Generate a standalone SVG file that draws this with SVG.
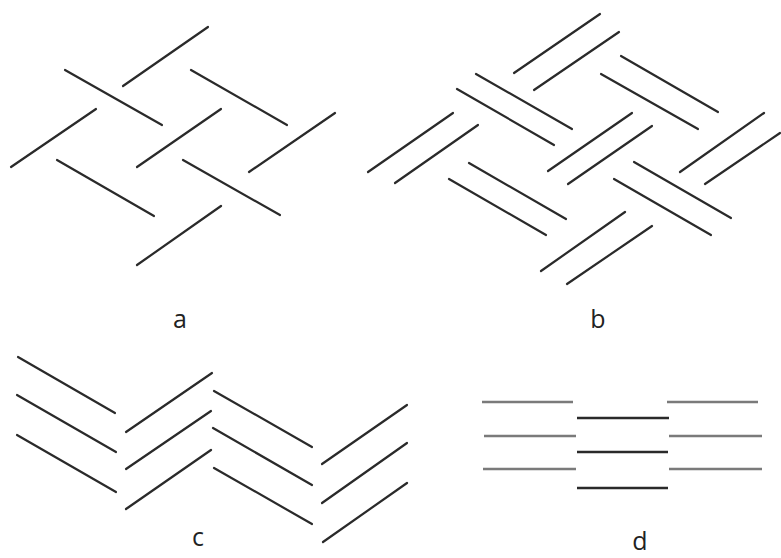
<svg xmlns="http://www.w3.org/2000/svg" width="781" height="558" viewBox="0 0 781 558">
<style>
.s{stroke:#2a2a2a;stroke-width:2.2;stroke-linecap:round;fill:none}
.g{stroke:#7a7a7a;stroke-width:2.4;fill:none}
.k{stroke:#2a2a2a;stroke-width:2.4;fill:none}
.t{font-family:"Open Sans","Liberation Sans",sans-serif;font-size:25px;fill:#222;text-anchor:middle}
</style>
<rect width="781" height="558" fill="#fff"/>
<g id="a">
<line class="s" x1="208" y1="27" x2="123" y2="86"/>
<line class="s" x1="65" y1="70" x2="162" y2="125"/>
<line class="s" x1="191" y1="70" x2="287" y2="125"/>
<line class="s" x1="96" y1="109" x2="11" y2="167"/>
<line class="s" x1="221" y1="109" x2="137" y2="167"/>
<line class="s" x1="335" y1="113" x2="249" y2="172"/>
<line class="s" x1="57" y1="160" x2="154" y2="216"/>
<line class="s" x1="183" y1="160" x2="280" y2="215"/>
<line class="s" x1="221" y1="206" x2="137" y2="265"/>
<text class="t" x="180" y="328">a</text>
</g>
<g id="b">
<line class="s" x1="600" y1="14" x2="514" y2="73"/>
<line class="s" x1="619" y1="32" x2="534" y2="90"/>
<line class="s" x1="621" y1="56" x2="718" y2="112"/>
<line class="s" x1="601" y1="74" x2="698" y2="129"/>
<line class="s" x1="476" y1="74" x2="572" y2="129"/>
<line class="s" x1="457" y1="89" x2="554" y2="145"/>
<line class="s" x1="453" y1="113" x2="368" y2="172"/>
<line class="s" x1="478" y1="125" x2="395" y2="183"/>
<line class="s" x1="632" y1="113" x2="548" y2="171"/>
<line class="s" x1="652" y1="126" x2="568" y2="184"/>
<line class="s" x1="764" y1="113" x2="680" y2="172"/>
<line class="s" x1="780" y1="133" x2="705" y2="184"/>
<line class="s" x1="469" y1="163" x2="566" y2="219"/>
<line class="s" x1="449" y1="179" x2="546" y2="235"/>
<line class="s" x1="634" y1="162" x2="731" y2="218"/>
<line class="s" x1="614" y1="179" x2="711" y2="235"/>
<line class="s" x1="625" y1="212" x2="541" y2="271"/>
<line class="s" x1="652" y1="226" x2="567" y2="284"/>
<text class="t" x="598" y="328">b</text>
</g>
<g id="c">
<line class="s" x1="18" y1="357" x2="115" y2="413"/>
<line class="s" x1="17" y1="395" x2="116" y2="452"/>
<line class="s" x1="17" y1="435" x2="116" y2="492"/>
<line class="s" x1="212" y1="373" x2="126" y2="432"/>
<line class="s" x1="211" y1="411" x2="126" y2="469"/>
<line class="s" x1="211" y1="450" x2="126" y2="509"/>
<line class="s" x1="214" y1="391" x2="312" y2="447"/>
<line class="s" x1="213" y1="428" x2="312" y2="485"/>
<line class="s" x1="214" y1="468" x2="312" y2="524"/>
<line class="s" x1="407" y1="405" x2="322" y2="464"/>
<line class="s" x1="407" y1="443" x2="322" y2="503"/>
<line class="s" x1="407" y1="483" x2="323" y2="542"/>
<text class="t" x="198" y="546">c</text>
</g>
<g id="d">
<line class="g" x1="482" y1="402" x2="573" y2="402"/>
<line class="g" x1="484" y1="436" x2="576" y2="436"/>
<line class="g" x1="483" y1="469" x2="576" y2="469"/>
<line class="g" x1="667" y1="402" x2="758" y2="402"/>
<line class="g" x1="669" y1="436" x2="762" y2="436"/>
<line class="g" x1="669" y1="469" x2="762" y2="469"/>
<line class="k" x1="577" y1="418" x2="669" y2="418"/>
<line class="k" x1="577" y1="452" x2="668" y2="452"/>
<line class="k" x1="577" y1="488" x2="668" y2="488"/>
<text class="t" x="640" y="550">d</text>
</g>
</svg>
